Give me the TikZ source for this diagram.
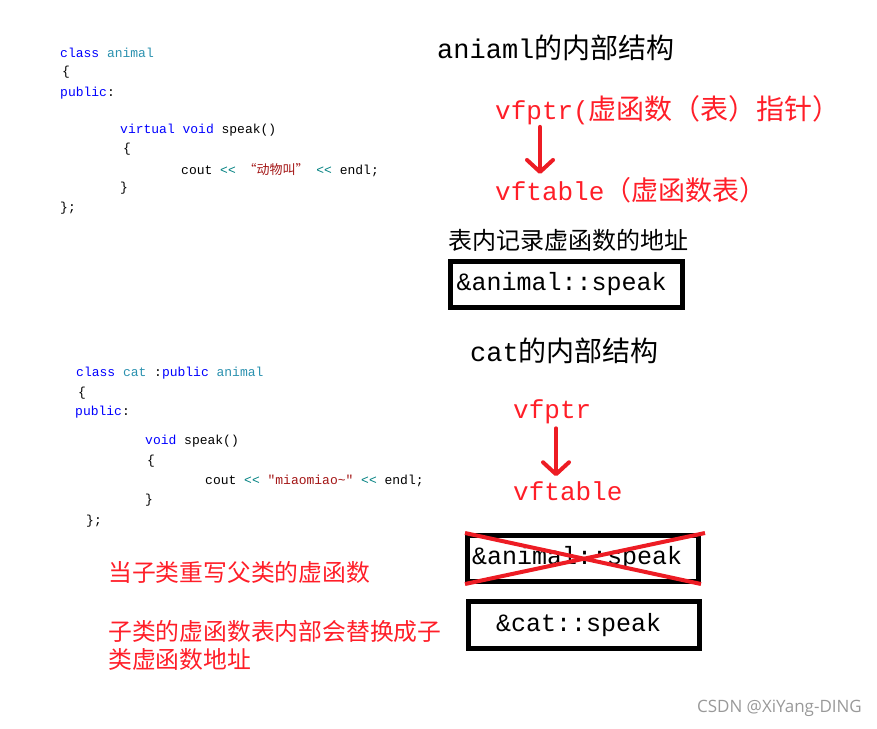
\documentclass[tikz,border=0pt]{standalone}
\usepackage{fontspec}
\usepackage{xcolor}
\usetikzlibrary{arrows.meta}
\setmonofont{Liberation Mono}
\newfontfamily\cjk{Noto Sans CJK SC}
\newfontfamily\wmfont{Open Sans}
\newcommand\fsz[1]{\fontsize{#1}{#1}\selectfont}
\definecolor{kwblue}{RGB}{0,0,255}
\definecolor{typeteal}{RGB}{43,145,175}
\definecolor{strred}{RGB}{163,21,21}
\definecolor{opteal}{RGB}{0,128,128}
\definecolor{notered}{RGB}{255,30,40}
\definecolor{arrred}{RGB}{237,28,36}

\begin{document}
\begin{tikzpicture}[x=1pt, y=-1pt,
  code/.style={anchor=west, inner sep=0pt, font=\ttfamily\fsz{13}},
  title/.style={anchor=west, inner sep=0pt, font=\ttfamily\fsz{27}},
  ptr/.style={anchor=west, inner sep=0pt, text=notered, font=\ttfamily\fsz{26}},
  note/.style={anchor=west, inner sep=0pt, text=notered, font=\cjk\fsz{23.8}},
  addrbox/.style={draw, line width=5pt, minimum height=46pt, align=left, font=\ttfamily\fsz{25}},
  redarrow/.style={draw=arrred, line width=4pt, line cap=round,
    -{Straight Barb[length=12pt,width=26pt,round]}}]
\useasboundingbox (0,0) rectangle (877,728);

% class animal
\node[code] (a1) at (60,53) {\textcolor{kwblue}{class} \textcolor{typeteal}{animal}};
\node[code] (a2) at (62,72) {\{};
\node[code] (a3) at (60,93) {\textcolor{kwblue}{public}:};
\node[code] (a4) at (120,130) {\textcolor{kwblue}{virtual} \textcolor{kwblue}{void} speak()};
\node[code] (a5) at (123,149) {\{};
\node[code] (a6) at (181,170) {cout \textcolor{opteal}{<<} \textcolor{strred}{\cjk “动物叫”} \textcolor{opteal}{<<} endl;};
\node[code] (a7) at (120,188) {\}};
\node[code] (a8) at (60,208) {\};};

% class cat
\node[code] (c1) at (76,373) {\textcolor{kwblue}{class} \textcolor{typeteal}{cat} :\textcolor{kwblue}{public} \textcolor{typeteal}{animal}};
\node[code] (c2) at (78,393) {\{};
\node[code] (c3) at (75,412) {\textcolor{kwblue}{public}:};
\node[code] (c4) at (145,441) {\textcolor{kwblue}{void} speak()};
\node[code] (c5) at (147,461) {\{};
\node[code] (c6) at (205,481) {cout \textcolor{opteal}{<<} \textcolor{strred}{"miaomiao\~{}"} \textcolor{opteal}{<<} endl;};
\node[code] (c7) at (145,500) {\}};
\node[code] (c8) at (86,521) {\};};

% animal side
\node[title] (animalTitle) at (437,48) {aniaml{\cjk\fsz{28}的内部结构}};
\node[ptr] (vfptrA) at (495,110) {vfptr({\cjk\fsz{28}虚函数（表）指针）}};
\node[ptr] (vftabA) at (495,190) {vftable{\cjk\fsz{27}（虚函数表）}};
\node[anchor=west, inner sep=0pt, font=\cjk\fsz{24}] (recA) at (448,240) {表内记录虚函数的地址};
\node[addrbox, text width=220pt, inner xsep=6pt] (addrA) at (566.5,284.5) {\&animal::speak};
\draw[redarrow, shorten <=2pt, shorten >=3pt] ([xshift=45pt]vfptrA.south west) -- ([xshift=45pt]vftabA.north west);

% cat side
\node[title] (catTitle) at (470,351) {cat{\cjk\fsz{28}的内部结构}};
\node[ptr] (vfptrB) at (513,412) {vfptr};
\node[ptr] (vftabB) at (513,491) {vftable};
\draw[redarrow, shorten <=4pt, shorten >=5pt] ([xshift=43pt]vfptrB.south west) -- ([xshift=43pt]vftabB.north west);
\node[addrbox, text width=222pt, inner xsep=4.5pt] (addrOld) at (583,558.5) {\&animal::speak};
\draw[arrred, line width=4pt] (addrOld.north west) -- (addrOld.south east);
\draw[arrred, line width=4pt] (addrOld.south west) -- ([xshift=4pt]addrOld.north east);
\node[addrbox, minimum height=47pt, text width=176pt, inner xsep=27.5pt] (addrNew) at (584,625) {\&cat::speak};

% notes
\node[note] (note1) at (108,572) {当子类重写父类的虚函数};
\node[note] (note2) at (108,631) {子类的虚函数表内部会替换成子};
\node[note] (note3) at (108,659) {类虚函数地址};

\node[anchor=east, inner sep=0pt, text=black!40, font=\wmfont\fsz{17}] (mark) at (862,708) {CSDN @XiYang-DING};
\end{tikzpicture}
\end{document}
